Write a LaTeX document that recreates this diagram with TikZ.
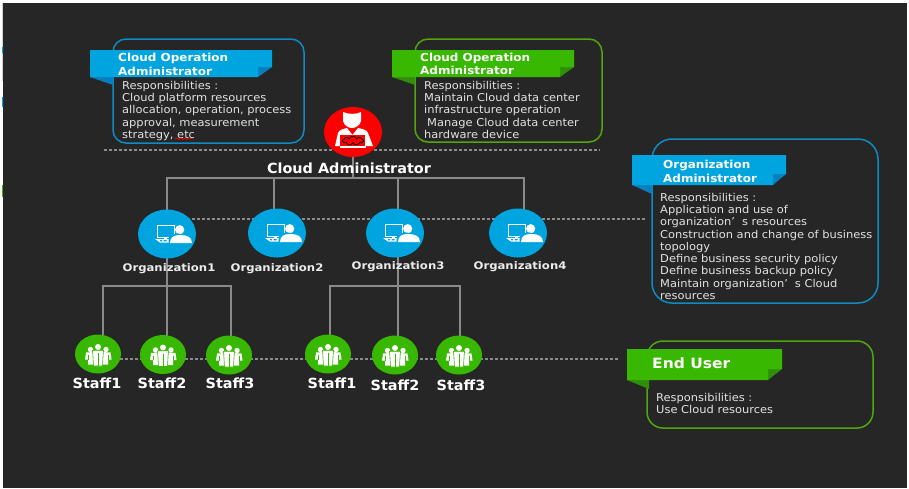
\documentclass[tikz,border=0pt]{standalone}
\usepackage{fontspec}
\setmainfont{DejaVu Sans}
\newfontfamily\bodyfam[FakeStretch=1.06]{DejaVu Sans}
\newfontfamily\titlefam[FakeStretch=1.09]{DejaVu Sans Bold}
\newfontfamily\orgfam[FakeStretch=1.11]{DejaVu Sans Bold}
\newfontfamily\bigfam[FakeStretch=1.03]{DejaVu Sans Bold}
\usetikzlibrary{shapes.geometric,shapes.symbols}
\pgfdeclarelayer{back}
\pgfdeclarelayer{lines}
\pgfsetlayers{back,lines,main}
\definecolor{bgdark}{HTML}{262626}
\definecolor{cblue}{HTML}{00A5E0}
\definecolor{cbluedk}{HTML}{0A7FC0}
\definecolor{cblueln}{HTML}{0E8BC4}
\definecolor{cgreen}{HTML}{38B800}
\definecolor{cgreendk}{HTML}{2F8F08}
\definecolor{cgreenln}{HTML}{52A50E}
\definecolor{cred}{HTML}{FF0000}
\definecolor{lnk}{HTML}{8A8A8A}
\definecolor{dsh}{HTML}{8C8C8C}
\definecolor{bodytxt}{HTML}{E2E2E2}
\tikzset{
  x=1pt,y=-1pt,
  orgnode/.style={ellipse,fill=cblue,minimum width=58pt,minimum height=49pt,inner sep=0},
  staffnode/.style={ellipse,fill=cgreen,minimum width=46pt,minimum height=39pt,inner sep=0},
  adminnode/.style={ellipse,fill=cred,minimum width=58pt,minimum height=50pt,inner sep=0},
  conn/.style={draw=lnk,line width=1.4pt},
  dashline/.style={draw=dsh,line width=1.5pt,dash pattern=on 3.2pt off 1.8pt},
  bluebox/.style={draw=cblueln,line width=1.5pt,rounded corners=13pt},
  greenbox/.style={draw=cgreenln,line width=1.5pt,rounded corners=13pt},
  biglabel/.style={text=white,font=\bigfam\fontsize{14}{16}\selectfont,inner sep=0},
  orglabel/.style={text=white!92!black,font=\orgfam\fontsize{10.5}{12}\selectfont,inner sep=0},
  ribbontitle/.style={anchor=north west,align=left,text=white,inner sep=0,font=\titlefam\fontsize{11}{13.5}\selectfont},
  bodytext/.style={anchor=north west,align=left,text=bodytxt,inner sep=0,font=\bodyfam\fontsize{10.8}{12.25}\selectfont},
  orgicon/.pic={
    \draw[white,line width=0.9pt] (-10,-9) rectangle (7,3);
    \fill[white] (-3,3) rectangle (0,5);
    \fill[white] (-12,5) -- (4,5) -- (3,8.5) -- (-7,8.5) -- cycle;
    \fill[cblue] (-7,6) rectangle (-5,7.4) (-3.5,6) rectangle (-0.5,7.4);
    \fill[white] (12.7,-4.3) circle (4.6);
    \fill[cblue] (1.5,10) -- (1.5,4) .. controls (4,0) and (8,-0.5) .. (13,-0.5) -- (13,10) -- cycle;
    \fill[white] (3,9.2) .. controls (3,3) and (7,1) .. (13,1) .. controls (20,1) and (25,3) .. (25,9.2) -- cycle;
  },
  stafficon/.pic={
    \fill[white] (0,-7) circle (3) (-7.5,-4.5) circle (2.7) (8,-4.5) circle (2.7);
    % side figures
    \fill[white] (-13,5.5) -- (-12,-1.5) -- (-4,-2) -- (-4,10.5) -- (-10,10.5) -- (-10,5.5) -- cycle;
    \fill[white] (13.5,5.5) -- (12.5,-1.5) -- (4,-2) -- (4,10.5) -- (10,10.5) -- (10,5.5) -- cycle;
    % middle figure
    \draw[cgreen,line width=0.6pt,fill=white] (-5.5,-3.6) -- (5.5,-3.6) -- (5,3) -- (4.5,12) -- (-4.5,12) -- (-5,3) -- cycle;
    \draw[cgreen,line width=0.6pt] (0,-1) -- (0,12) (-10,1) -- (-10,5.5) (10,1) -- (10,5.5);
  },
  adminicon/.pic={
    \fill[white] (-10,-20) .. controls (-5,-17.5) and (4,-17.5) .. (8,-20) -- (8,-11)
       .. controls (7,-7) and (3,-4) .. (-1,-4) .. controls (-5,-4) and (-9,-7) .. (-10,-11) -- cycle;
    \fill[white] (-18,14) -- (-15,1) .. controls (-14,-2) and (-10,-3) .. (-6,-4) -- (-0.5,3) -- (5,-4)
       .. controls (10,-3) and (14,-2) .. (15,1) -- (20,14) -- cycle;
    \fill[cred] (-13,3) rectangle (12,14);
    \fill[white] (-13,14.2) rectangle (13,16);
    \node[cloud,cloud puffs=9,aspect=2.4,draw=black,line width=0.7pt,fill=cred,minimum width=21pt,minimum height=9pt,inner sep=0] (cloudmark) at (0,8.7) {};
  }
}
\begin{document}
\begin{tikzpicture}
\useasboundingbox (0,0) rectangle (909,488);
\begin{pgfonlayer}{back}
  \fill[white] (0,0) rectangle (909,488);
  \fill[bgdark] (3,3) rectangle (907,488);
  \fill[gray!35] (2,3) rectangle (3,81);
  \fill[cblue] (2,47) rectangle (3,53) (2,97) rectangle (3,107);
  \fill[cgreen] (2,185) rectangle (3,197);
\end{pgfonlayer}

% callout boxes
\draw[bluebox] (113,39) rectangle (304,143);
\draw[greenbox] (415,39) rectangle (602,142);
\draw[bluebox,rounded corners=20pt] (652,139) rectangle (878,303);
\draw[greenbox,rounded corners=16pt] (647,341) rectangle (873,428);

% ribbons
\fill[cbluedk] (90,77) -- (113,85) -- (113,77) -- cycle;
\fill[cbluedk] (258,77) -- (258,67) -- (272,67) -- cycle;
\fill[cblue] (90,50) -- (272,50) -- (272,67) -- (258,67) -- (258,77) -- (90,77) -- cycle;
\fill[cgreendk] (392,77) -- (415,85) -- (415,77) -- cycle;
\fill[cgreendk] (560,77) -- (560,67) -- (574,67) -- cycle;
\fill[cgreen] (392,50) -- (574,50) -- (574,67) -- (560,67) -- (560,77) -- (392,77) -- cycle;
\fill[cbluedk] (632,185) -- (652,194) -- (652,185) -- cycle;
\fill[cbluedk] (773,185) -- (773,174) -- (786,174) -- cycle;
\fill[cblue] (632,155) -- (786,155) -- (786,174) -- (773,174) -- (773,185) -- (632,185) -- cycle;
\fill[cgreendk] (627,380) -- (649,389) -- (649,380) -- cycle;
\fill[cgreendk] (768,380) -- (768,369) -- (782,369) -- cycle;
\fill[cgreen] (627,349) -- (782,349) -- (782,369) -- (768,369) -- (768,380) -- (627,380) -- cycle;

% ribbon titles
\node[ribbontitle] (t1) at (118,53) {Cloud Operation\\Administrator};
\node[ribbontitle] (t2) at (420,52.5) {Cloud Operation\\Administrator};
\node[ribbontitle] (t3) at (663,160) {Organization\\Administrator};
\node[ribbontitle,font=\titlefam\fontsize{14.2}{18}\selectfont] (t4) at (652,358) {End User};

% body texts
\node[bodytext] (b1) at (122,81) {Responsibilities :\\Cloud platform resources\\allocation, operation, process\\approval, measurement\\strategy, etc};
\node[bodytext] (b2) at (424,81) {Responsibilities :\\Maintain Cloud data center\\infrastructure operation\\\hspace{3pt}Manage Cloud data center\\hardware device};
\node[bodytext] (b3) at (660,193) {Responsibilities :\\Application and use of\\organization’\hspace{7pt}s resources\\Construction and change of business\\topology\\Define business security policy\\Define business backup policy\\Maintain organization’\hspace{7pt}s Cloud\\resources};
\node[bodytext] (b4) at (656,393) {Responsibilities :\\Use Cloud resources};
\draw[red,line width=0.8pt] (175,139) -- (177,138) -- (179,139.5) -- (181,138) -- (183,139.5) -- (185,138) -- (187,139.5) -- (189,138) -- (193,139);

% nodes
\node[adminnode] (admin) at (353,132) {};
\pic at (admin.center) {adminicon};
\node[biglabel] (adminlabel) at (349,168) {Cloud Administrator};

\node[orgnode] (org1) at (167,234) {};
\node[orgnode] (org2) at (277,233) {};
\node[orgnode] (org3) at (395,233) {};
\node[orgnode] (org4) at (518,233) {};
\foreach \n in {org1,org2,org3,org4} {\pic at (\n.center) {orgicon};}
\node[orglabel] (lo1) at (169,268.5) {Organization1};
\node[orglabel] (lo2) at (277,268.5) {Organization2};
\node[orglabel] (lo3) at (398,266.5) {Organization3};
\node[orglabel] (lo4) at (520,266.5) {Organization4};

\node[staffnode] (s1) at (98,354) {};
\node[staffnode] (s2) at (163,354.5) {};
\node[staffnode] (s3) at (229,355) {};
\node[staffnode] (s4) at (328,354) {};
\node[staffnode] (s5) at (395,355) {};
\node[staffnode] (s6) at (459,355) {};
\foreach \n in {s1,s2,s3,s4,s5,s6} {\pic at (\n.center) {stafficon};}
\node[biglabel] (ls1) at (97,383.5) {Staff1};
\node[biglabel] (ls2) at (162,383.5) {Staff2};
\node[biglabel] (ls3) at (230,383.5) {Staff3};
\node[biglabel] (ls4) at (332,383.5) {Staff1};
\node[biglabel] (ls5) at (395,385.5) {Staff2};
\node[biglabel] (ls6) at (461,385.5) {Staff3};

% connector points
\coordinate (busA) at (353,178);
\coordinate (a1) at (167,178);
\coordinate (a2) at (274,178);
\coordinate (a3) at (398,178);
\coordinate (a4) at (524,178);
\coordinate (busL) at (167,286);
\coordinate (l1) at (103,286);
\coordinate (l3) at (231,286);
\coordinate (busR) at (398,286);
\coordinate (r1) at (330,286);
\coordinate (r3) at (460,286);
\coordinate (dt1) at (104,150);
\coordinate (dt2) at (600,150);
\coordinate (dm2) at (645,219);
\coordinate (db1) at (120,359);
\coordinate (db2) at (618,359);

\begin{pgfonlayer}{lines}
  \draw[dashline] (dt1) -- (dt2);
  \draw[dashline] (org1.center |- dm2) -- (dm2);
  \draw[dashline] (db1) -- (db2);
  \draw[conn] (admin.center) -- (busA);
  \draw[conn] (a1 |- org1.center) -- (a1) -- (a4) -- (a4 |- org4.center);
  \draw[conn] (a2) -- (a2 |- org2.center);
  \draw[conn] (a3) -- (a3 |- org3.center);
  \draw[conn] (org1.center) -- (busL |- s2.center);
  \draw[conn] (l1 |- s1.center) -- (l1) -- (l3) -- (l3 |- s3.center);
  \draw[conn] (org3.center -| busR) -- (busR |- s5.center);
  \draw[conn] (r1 |- s4.center) -- (r1) -- (r3) -- (r3 |- s6.center);
\end{pgfonlayer}
\end{tikzpicture}
\end{document}
